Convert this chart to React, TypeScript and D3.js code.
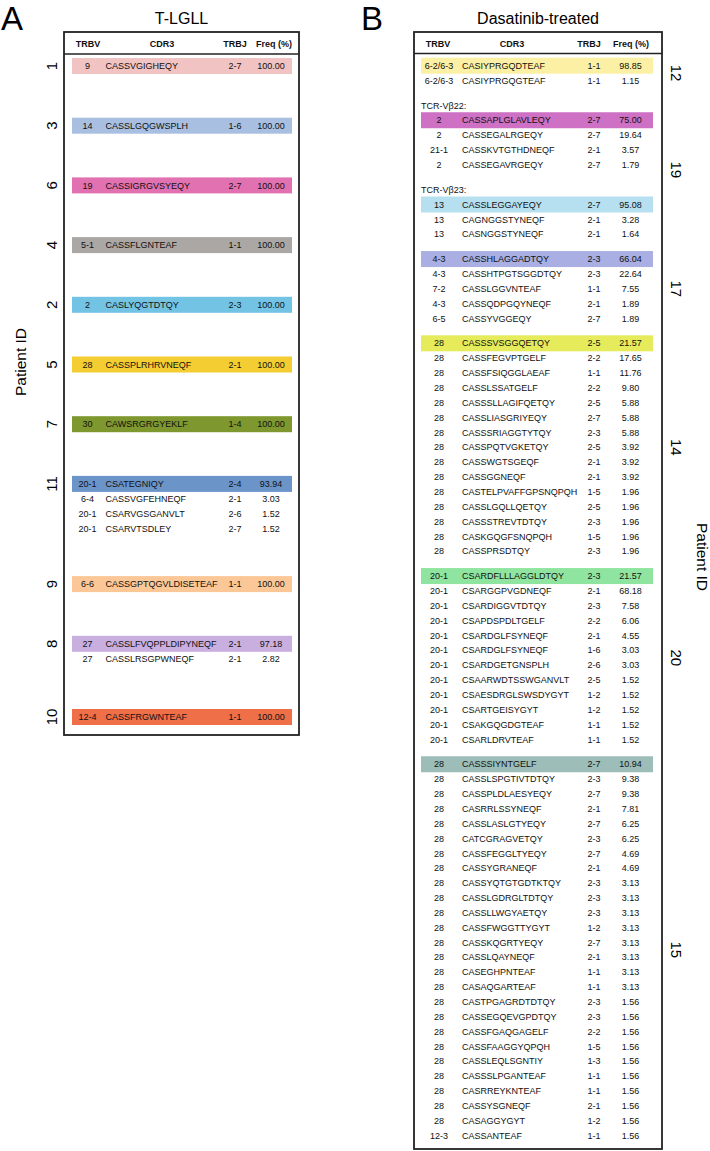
import * as d3 from 'd3';

// [TRBV, CDR3, TRBJ, Freq]
type Clone = [string, string, string, string];

// Panel A: T-LGLL, one block per patient (top to bottom)
const leftPatients = ['1', '3', '6', '4', '2', '5', '7', '11', '9', '8', '10'];
const leftColors = ['#f2c3c3', '#a8bfe1', '#e271b2', '#aba7a4', '#73c3e5', '#f4cd33', '#7e972e', '#6b94c9', '#fcc797', '#c8afe0', '#ee6f48'];
const leftClones: Clone[][] = [
  [['9', 'CASSVGIGHEQY', '2-7', '100.00']],
  [['14', 'CASSLGQGWSPLH', '1-6', '100.00']],
  [['19', 'CASSIGRGVSYEQY', '2-7', '100.00']],
  [['5-1', 'CASSFLGNTEAF', '1-1', '100.00']],
  [['2', 'CASLYQGTDTQY', '2-3', '100.00']],
  [['28', 'CASSPLRHRVNEQF', '2-1', '100.00']],
  [['30', 'CAWSRGRGYEKLF', '1-4', '100.00']],
  [
    ['20-1', 'CSATEGNIQY', '2-4', '93.94'],
    ['6-4', 'CASSVGFEHNEQF', '2-1', '3.03'],
    ['20-1', 'CSARVGSGANVLT', '2-6', '1.52'],
    ['20-1', 'CSARVTSDLEY', '2-7', '1.52'],
  ],
  [['6-6', 'CASSGPTQGVLDISETEAF', '1-1', '100.00']],
  [
    ['27', 'CASSLFVQPPLDIPYNEQF', '2-1', '97.18'],
    ['27', 'CASSLRSGPWNEQF', '2-1', '2.82'],
  ],
  [['12-4', 'CASSFRGWNTEAF', '1-1', '100.00']],
];

// Panel B: Dasatinib-treated, blocks (patient 19 has two sub-blocks)
const rightPatients = ['12', '19', '19', '17', '14', '20', '15'];
const rightLabels = ['', 'TCR-Vβ22:', 'TCR-Vβ23:', '', '', '', ''];
const rightColors = ['#fbf0a3', '#ce70c4', '#b6dff0', '#a9afe3', '#e5eb5b', '#8fe59f', '#9cbdb8'];
const rightClones: Clone[][] = [
  [
    ['6-2/6-3', 'CASIYPRGQDTEAF', '1-1', '98.85'],
    ['6-2/6-3', 'CASIYPRGQGTEAF', '1-1', '1.15'],
  ],
  [
    ['2', 'CASSAPLGLAVLEQY', '2-7', '75.00'],
    ['2', 'CASSEGALRGEQY', '2-7', '19.64'],
    ['21-1', 'CASSKVTGTHDNEQF', '2-1', '3.57'],
    ['2', 'CASSEGAVRGEQY', '2-7', '1.79'],
  ],
  [
    ['13', 'CASSLEGGAYEQY', '2-7', '95.08'],
    ['13', 'CAGNGGSTYNEQF', '2-1', '3.28'],
    ['13', 'CASNGGSTYNEQF', '2-1', '1.64'],
  ],
  [
    ['4-3', 'CASSHLAGGADTQY', '2-3', '66.04'],
    ['4-3', 'CASSHTPGTSGGDTQY', '2-3', '22.64'],
    ['7-2', 'CASSLGGVNTEAF', '1-1', '7.55'],
    ['4-3', 'CASSQDPGQYNEQF', '2-1', '1.89'],
    ['6-5', 'CASSYVGGEQY', '2-7', '1.89'],
  ],
  [
    ['28', 'CASSSVSGGQETQY', '2-5', '21.57'],
    ['28', 'CASSFEGVPTGELF', '2-2', '17.65'],
    ['28', 'CASSFSIQGGLAEAF', '1-1', '11.76'],
    ['28', 'CASSLSSATGELF', '2-2', '9.80'],
    ['28', 'CASSSLLAGIFQETQY', '2-5', '5.88'],
    ['28', 'CASSLIASGRIYEQY', '2-7', '5.88'],
    ['28', 'CASSSRIAGGTYTQY', '2-3', '5.88'],
    ['28', 'CASSPQTVGKETQY', '2-5', '3.92'],
    ['28', 'CASSWGTSGEQF', '2-1', '3.92'],
    ['28', 'CASSGGNEQF', '2-1', '3.92'],
    ['28', 'CASTELPVAFFGPSNQPQH', '1-5', '1.96'],
    ['28', 'CASSLGQLLQETQY', '2-5', '1.96'],
    ['28', 'CASSSTREVTDTQY', '2-3', '1.96'],
    ['28', 'CASKGQGFSNQPQH', '1-5', '1.96'],
    ['28', 'CASSPRSDTQY', '2-3', '1.96'],
  ],
  [
    ['20-1', 'CSARDFLLLAGGLDTQY', '2-3', '21.57'],
    ['20-1', 'CSARGGPVGDNEQF', '2-1', '68.18'],
    ['20-1', 'CSARDIGGVTDTQY', '2-3', '7.58'],
    ['20-1', 'CSAPDSPDLTGELF', '2-2', '6.06'],
    ['20-1', 'CSARDGLFSYNEQF', '2-1', '4.55'],
    ['20-1', 'CSARDGLFSYNEQF', '1-6', '3.03'],
    ['20-1', 'CSARDGETGNSPLH', '2-6', '3.03'],
    ['20-1', 'CSAARWDTSSWGANVLT', '2-5', '1.52'],
    ['20-1', 'CSAESDRGLSWSDYGYT', '1-2', '1.52'],
    ['20-1', 'CSARTGEISYGYT', '1-2', '1.52'],
    ['20-1', 'CSAKGQGDGTEAF', '1-1', '1.52'],
    ['20-1', 'CSARLDRVTEAF', '1-1', '1.52'],
  ],
  [
    ['28', 'CASSSIYNTGELF', '2-7', '10.94'],
    ['28', 'CASSLSPGTIVTDTQY', '2-3', '9.38'],
    ['28', 'CASSPLDLAESYEQY', '2-7', '9.38'],
    ['28', 'CASRRLSSYNEQF', '2-1', '7.81'],
    ['28', 'CASSLASLGTYEQY', '2-7', '6.25'],
    ['28', 'CATCGRAGVETQY', '2-3', '6.25'],
    ['28', 'CASSFEGGLTYEQY', '2-7', '4.69'],
    ['28', 'CASSYGRANEQF', '2-1', '4.69'],
    ['28', 'CASSYQTGTGDTKTQY', '2-3', '3.13'],
    ['28', 'CASSLGDRGLTDTQY', '2-3', '3.13'],
    ['28', 'CASSLLWGYAETQY', '2-3', '3.13'],
    ['28', 'CASSFWGGTTYGYT', '1-2', '3.13'],
    ['28', 'CASSKQGRTYEQY', '2-7', '3.13'],
    ['28', 'CASSLQAYNEQF', '2-1', '3.13'],
    ['28', 'CASEGHPNTEAF', '1-1', '3.13'],
    ['28', 'CASAQGARTEAF', '1-1', '3.13'],
    ['28', 'CASTPGAGRDTDTQY', '2-3', '1.56'],
    ['28', 'CASSEGQEVGPDTQY', '2-3', '1.56'],
    ['28', 'CASSFGAQGAGELF', '2-2', '1.56'],
    ['28', 'CASSFAAGGYQPQH', '1-5', '1.56'],
    ['28', 'CASSLEQLSGNTIY', '1-3', '1.56'],
    ['28', 'CASSSLPGANTEAF', '1-1', '1.56'],
    ['28', 'CASRREYKNTEAF', '1-1', '1.56'],
    ['28', 'CASSYSGNEQF', '2-1', '1.56'],
    ['28', 'CASAGGYGYT', '1-2', '1.56'],
    ['12-3', 'CASSANTEAF', '1-1', '1.56'],
  ],
];

const headers = ['TRBV', 'CDR3', 'TRBJ', 'Freq (%)'];

const FONT = '"Liberation Sans", Arial, Helvetica, sans-serif';
const W = 710;
const H = 1151;

interface Cols { trbv: number; cdr3: number; cdr3Head: number; trbj: number; freq: number; freqHead: number; trbjHead: number; trbvHead: number }

function Row({ c, y, cols }: { c: Clone; y: number; cols: Cols }) {
  return (
    <g fontSize={9} fill="#111">
      <text x={cols.trbv} y={y} dy="0.35em" textAnchor="middle">{c[0]}</text>
      <text x={cols.cdr3} y={y} dy="0.35em">{c[1]}</text>
      <text x={cols.trbj} y={y} dy="0.35em" textAnchor="middle">{c[2]}</text>
      <text x={cols.freq} y={y} dy="0.35em" textAnchor="middle">{c[3]}</text>
    </g>
  );
}

function Header({ cols, y }: { cols: Cols; y: number }) {
  const xs = [cols.trbvHead, cols.cdr3Head, cols.trbjHead, cols.freqHead];
  return (
    <g fontSize={9} fontWeight="bold" fill="#111">
      {headers.map((h, i) => (
        <text key={h} x={xs[i]} y={y} dy="0.35em" textAnchor="middle">{h}</text>
      ))}
    </g>
  );
}

export default function App() {
  // ---- left panel layout ----
  const L = { x0: 64, x1: 299, top: 32, headLine: 54 };
  const leftCols: Cols = { trbv: 87.5, cdr3: 105.5, trbj: 235, freq: 271, trbvHead: 88, cdr3Head: 162, trbjHead: 235, freqHead: 274 };
  const groupY = d3.scaleLinear().domain([0, 1]).range([66, 125.7]); // per group step
  const subStep = 15;
  let subsBefore = 0;
  const leftBlocks = leftClones.map((rows, k) => {
    const y0 = groupY(k) + 13.5 * subsBefore;
    subsBefore += rows.length - 1;
    return { k, y0, rows };
  });
  const leftLast = leftBlocks[leftBlocks.length - 1];
  const leftBottom = leftLast.y0 + (leftLast.rows.length - 1) * subStep + 18;

  // ---- right panel layout ----
  const R = { x0: 414, x1: 662, top: 32, headLine: 53.5 };
  const rightCols: Cols = { trbv: 439, cdr3: 462, trbj: 594, freq: 630.5, trbvHead: 438, cdr3Head: 512, trbjHead: 589, freqHead: 631 };
  const lineY = d3.scaleLinear().domain([0, 1]).range([65.7, 80.55]);
  const blockGap = 10;
  let line = 0;
  const rightBlocks = rightClones.map((rows, b) => {
    const off = b * blockGap;
    const labelY = rightLabels[b] ? lineY(line) + off : null;
    if (rightLabels[b]) line += 1;
    const ys = rows.map((_, j) => lineY(line + j) + off);
    line += rows.length;
    return { b, labelY, ys, rows };
  });
  const rightLastY = rightBlocks[rightBlocks.length - 1].ys.slice(-1)[0];
  const rightBottom = rightLastY + 13.5;

  // patient spans on the right
  const patientSpans = Array.from(d3.group(rightBlocks, (d) => rightPatients[d.b]), ([p, bl]) => {
    const first = bl[0].labelY ?? bl[0].ys[0];
    const last = bl[bl.length - 1].ys.slice(-1)[0];
    return { p, mid: (first + last) / 2 };
  });

  return (
    <svg width={W} height={H} style={{ position: 'absolute', left: 0, top: 0, background: '#fff' }} fontFamily={FONT}>
      {/* panel letters */}
      <text x={1} y={30} fontSize={33}>A</text>
      <text x={361} y={30} fontSize={33}>B</text>

      {/* ===== Panel A ===== */}
      <text x={(L.x0 + L.x1) / 2} y={24} fontSize={16} textAnchor="middle">T-LGLL</text>
      <Header cols={leftCols} y={44} />
      {leftBlocks.map(({ k, y0, rows }) => (
        <g key={k}>
          <rect x={72} y={y0 - 8} width={220} height={16} fill={leftColors[k]} />
          {rows.map((c, j) => (
            <Row key={j} c={c} y={y0 + j * subStep} cols={leftCols} />
          ))}
          <text transform={`translate(52,${y0}) rotate(-90)`} dy="0.35em" fontSize={15} textAnchor="middle">
            {leftPatients[k]}
          </text>
        </g>
      ))}
      <line x1={L.x0} x2={L.x1} y1={L.headLine} y2={L.headLine} stroke="#222" strokeWidth={1.5} />
      <rect x={L.x0} y={L.top} width={L.x1 - L.x0} height={leftBottom - L.top} fill="none" stroke="#222" strokeWidth={1.8} />
      <text transform={`translate(21,362) rotate(-90)`} dy="0.35em" fontSize={15.5} textAnchor="middle">Patient ID</text>

      {/* ===== Panel B ===== */}
      <text x={(R.x0 + R.x1) / 2} y={24} fontSize={16} textAnchor="middle">Dasatinib-treated</text>
      <Header cols={rightCols} y={44} />
      {rightBlocks.map(({ b, labelY, ys, rows }) => (
        <g key={b}>
          {labelY !== null && (
            <text x={421} y={labelY} dy="0.35em" fontSize={9} fill="#111">{rightLabels[b]}</text>
          )}
          <rect x={421} y={ys[0] - 8} width={232} height={16} fill={rightColors[b]} />
          {rows.map((c, j) => (
            <Row key={j} c={c} y={ys[j]} cols={rightCols} />
          ))}
        </g>
      ))}
      {patientSpans.map(({ p, mid }) => (
        <text key={p} transform={`translate(676,${mid}) rotate(90)`} dy="0.35em" fontSize={15} textAnchor="middle">{p}</text>
      ))}
      <line x1={R.x0} x2={R.x1} y1={R.headLine} y2={R.headLine} stroke="#222" strokeWidth={1.5} />
      <rect x={R.x0} y={R.top} width={R.x1 - R.x0} height={rightBottom - R.top} fill="none" stroke="#222" strokeWidth={1.8} />
      <text transform={`translate(702,557) rotate(90)`} dy="0.35em" fontSize={15.5} textAnchor="middle">Patient ID</text>
    </svg>
  );
}
